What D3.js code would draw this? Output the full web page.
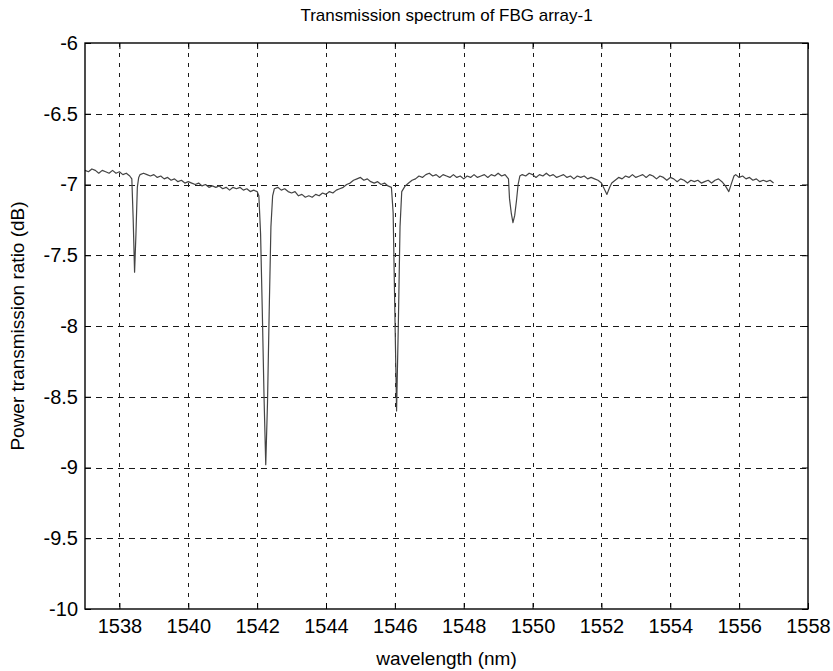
<!DOCTYPE html>
<html>
<head>
<meta charset="utf-8">
<script src="https://cdn.jsdelivr.net/npm/d3@7"></script>
<style>
  html, body { margin: 0; padding: 0; background: #fff; }
  svg { display: block; font-family: "Liberation Sans", Arial, sans-serif; }
</style>
</head>
<body>
<svg id="chart" width="833" height="671"></svg>
<script>
// Axis settings and labels
const titleText = "Transmission spectrum of FBG array-1";
const xLabelText = "wavelength (nm)";
const yLabelText = "Power transmission ratio (dB)";
const xDomain = [1537, 1558];
const yDomain = [-10, -6];
const xTickValues = [1538, 1540, 1542, 1544, 1546, 1548, 1550, 1552, 1554, 1556, 1558];
const yTickValues = [-10, -9.5, -9, -8.5, -8, -7.5, -7, -6.5, -6];

// Measured transmission spectrum: [wavelength (nm), power ratio (dB)]
const spectrumPoints = [
  [1537.0,-6.90],[1537.1,-6.91],[1537.2,-6.89],[1537.3,-6.90],[1537.4,-6.92],[1537.5,-6.90],
  [1537.6,-6.91],[1537.7,-6.92],[1537.8,-6.90],[1537.9,-6.92],[1538.0,-6.91],[1538.1,-6.93],
  [1538.2,-6.92],[1538.3,-6.94],
  // grating 1
  [1538.36,-6.96],[1538.40,-7.25],[1538.44,-7.62],[1538.48,-7.35],[1538.52,-7.02],[1538.56,-6.95],
  [1538.6,-6.93],[1538.7,-6.92],[1538.8,-6.93],[1538.9,-6.94],[1539.0,-6.93],[1539.1,-6.95],
  [1539.2,-6.94],[1539.3,-6.96],[1539.4,-6.95],[1539.5,-6.97],[1539.6,-6.96],[1539.7,-6.98],
  [1539.8,-6.97],[1539.9,-6.99],[1540.0,-6.98],[1540.1,-6.99],[1540.2,-7.00],[1540.3,-6.99],
  [1540.4,-7.01],[1540.5,-7.00],[1540.6,-7.02],[1540.7,-7.01],[1540.8,-7.02],[1540.9,-7.01],
  [1541.0,-7.03],[1541.1,-7.02],[1541.2,-7.04],[1541.3,-7.02],[1541.4,-7.03],[1541.5,-7.02],
  [1541.6,-7.04],[1541.7,-7.03],[1541.8,-7.05],[1541.9,-7.04],[1542.0,-7.05],
  // grating 2
  [1542.05,-7.08],[1542.10,-7.35],[1542.15,-7.90],[1542.20,-8.50],[1542.25,-8.98],[1542.30,-8.55],
  [1542.35,-7.90],[1542.40,-7.30],[1542.45,-7.08],[1542.50,-7.03],
  [1542.6,-7.02],[1542.7,-7.04],[1542.8,-7.03],[1542.9,-7.05],[1543.0,-7.06],[1543.1,-7.05],
  [1543.2,-7.08],[1543.3,-7.07],[1543.4,-7.09],[1543.5,-7.08],[1543.6,-7.09],[1543.7,-7.07],
  [1543.8,-7.08],[1543.9,-7.06],[1544.0,-7.07],[1544.1,-7.05],[1544.2,-7.06],[1544.3,-7.04],
  [1544.4,-7.03],[1544.5,-7.02],[1544.6,-7.00],[1544.7,-6.99],[1544.8,-6.97],[1544.9,-6.96],
  [1545.0,-6.95],[1545.1,-6.97],[1545.2,-6.96],[1545.3,-6.98],[1545.4,-6.99],[1545.5,-6.98],
  [1545.6,-7.00],[1545.7,-6.99],[1545.8,-7.01],[1545.9,-7.02],
  // grating 3
  [1545.95,-7.20],[1546.00,-7.90],[1546.05,-8.60],[1546.10,-8.00],[1546.15,-7.30],[1546.20,-7.05],
  [1546.3,-7.01],[1546.4,-6.99],[1546.5,-6.97],[1546.6,-6.96],[1546.7,-6.94],[1546.8,-6.95],
  [1546.9,-6.93],[1547.0,-6.92],[1547.1,-6.94],[1547.2,-6.93],[1547.3,-6.95],[1547.4,-6.93],
  [1547.5,-6.94],[1547.6,-6.95],[1547.7,-6.93],[1547.8,-6.95],[1547.9,-6.94],[1548.0,-6.96],
  [1548.1,-6.94],[1548.2,-6.95],[1548.3,-6.93],[1548.4,-6.95],[1548.5,-6.94],[1548.6,-6.93],
  [1548.7,-6.95],[1548.8,-6.93],[1548.9,-6.94],[1549.0,-6.92],[1549.1,-6.94],[1549.2,-6.93],
  [1549.3,-6.96],
  // grating 4
  [1549.33,-7.10],[1549.38,-7.20],[1549.43,-7.27],[1549.48,-7.22],[1549.53,-7.12],[1549.58,-7.00],
  [1549.63,-6.94],
  [1549.7,-6.93],[1549.8,-6.94],[1549.9,-6.92],[1550.0,-6.93],[1550.1,-6.95],[1550.2,-6.93],
  [1550.3,-6.94],[1550.4,-6.92],[1550.5,-6.94],[1550.6,-6.93],[1550.7,-6.95],[1550.8,-6.94],
  [1550.9,-6.93],[1551.0,-6.95],[1551.1,-6.94],[1551.2,-6.96],[1551.3,-6.94],[1551.4,-6.95],
  [1551.5,-6.94],[1551.6,-6.96],[1551.7,-6.95],[1551.8,-6.96],[1551.9,-6.97],[1552.0,-6.99],
  // grating 5
  [1552.08,-7.03],[1552.16,-7.07],[1552.24,-7.02],[1552.3,-6.99],
  [1552.4,-6.97],[1552.5,-6.95],[1552.6,-6.96],[1552.7,-6.94],[1552.8,-6.95],[1552.9,-6.93],
  [1553.0,-6.95],[1553.1,-6.94],[1553.2,-6.93],[1553.3,-6.95],[1553.4,-6.93],[1553.5,-6.94],
  [1553.6,-6.96],[1553.7,-6.94],[1553.8,-6.95],[1553.9,-6.97],[1554.0,-6.95],[1554.1,-6.96],
  [1554.2,-6.98],[1554.3,-6.96],[1554.4,-6.97],[1554.5,-6.99],[1554.6,-6.97],[1554.7,-6.98],
  [1554.8,-6.97],[1554.9,-6.99],[1555.0,-6.98],[1555.1,-6.97],[1555.2,-6.99],[1555.3,-6.97],
  [1555.4,-6.96],[1555.5,-6.98],
  // grating 6
  [1555.6,-7.01],[1555.7,-7.05],[1555.78,-6.99],[1555.85,-6.94],
  [1555.9,-6.93],[1556.0,-6.95],[1556.1,-6.94],[1556.2,-6.96],[1556.3,-6.95],[1556.4,-6.97],
  [1556.5,-6.96],[1556.6,-6.98],[1556.7,-6.97],[1556.8,-6.98],[1556.9,-6.97],[1557.0,-6.99]
];

const plot = { left: 85, right: 808, top: 43, bottom: 609 };

const svg = d3.select("#chart");

const x = d3.scaleLinear().domain(xDomain).range([plot.left, plot.right]);
const y = d3.scaleLinear().domain(yDomain).range([plot.bottom, plot.top]);

// Dashed grid
const grid = svg.append("g").attr("class", "grid")
  .attr("stroke", "#1a1a1a").attr("stroke-width", 1).attr("fill", "none");

grid.selectAll("line.vgrid")
  .data(xTickValues.filter(v => v > xDomain[0] && v < xDomain[1]))
  .join("line")
  .attr("class", "vgrid")
  .attr("x1", d => Math.round(x(d)) + 0.5).attr("x2", d => Math.round(x(d)) + 0.5)
  .attr("y1", plot.top).attr("y2", plot.bottom)
  .attr("stroke-dasharray", "4,6");

grid.selectAll("line.hgrid")
  .data(yTickValues.filter(v => v > yDomain[0] && v < yDomain[1]))
  .join("line")
  .attr("class", "hgrid")
  .attr("x1", plot.left).attr("x2", plot.right)
  .attr("y1", d => Math.round(y(d)) + 0.5).attr("y2", d => Math.round(y(d)) + 0.5)
  .attr("stroke-dasharray", "6,5");

// Spectrum trace
const line = d3.line().x(d => x(d[0])).y(d => y(d[1]));
svg.append("path")
  .datum(spectrumPoints)
  .attr("d", line)
  .attr("fill", "none")
  .attr("stroke", "#444")
  .attr("stroke-width", 1.2)
  .attr("stroke-linejoin", "round");

// Axes with inward ticks on all four sides
const tickFont = "20px";
const xAxisBottom = d3.axisBottom(x).tickValues(xTickValues).tickSizeInner(-6).tickSizeOuter(0).tickPadding(10)
  .tickFormat(d => String(d));
const xAxisTop = d3.axisTop(x).tickValues(xTickValues).tickSizeInner(-6).tickSizeOuter(0).tickFormat("");
const yAxisLeft = d3.axisLeft(y).tickValues(yTickValues).tickSizeInner(-6).tickSizeOuter(0).tickPadding(7)
  .tickFormat(d => String(d));
const yAxisRight = d3.axisRight(y).tickValues(yTickValues).tickSizeInner(-6).tickSizeOuter(0).tickFormat("");

function styleAxis(g) {
  g.select(".domain").remove();
  g.selectAll(".tick line").attr("stroke", "#000");
  g.selectAll(".tick text").attr("fill", "#000").style("font-size", tickFont)
    .style("font-family", "'Liberation Sans', Arial, sans-serif");
}

svg.append("g").attr("transform", `translate(0,${plot.bottom})`).call(xAxisBottom).call(styleAxis);
svg.append("g").attr("transform", `translate(0,${plot.top})`).call(xAxisTop).call(styleAxis);
svg.append("g").attr("transform", `translate(${plot.left},0)`).call(yAxisLeft).call(styleAxis);
svg.append("g").attr("transform", `translate(${plot.right},0)`).call(yAxisRight).call(styleAxis);

// Axes box
svg.append("rect")
  .attr("x", plot.left).attr("y", plot.top)
  .attr("width", plot.right - plot.left).attr("height", plot.bottom - plot.top)
  .attr("fill", "none").attr("stroke", "#000").attr("stroke-width", 1.4);

// Title and axis labels
svg.append("text")
  .attr("x", (plot.left + plot.right) / 2).attr("y", 21)
  .attr("text-anchor", "middle")
  .style("font-size", "17px")
  .text(titleText);

svg.append("text")
  .attr("x", (plot.left + plot.right) / 2).attr("y", 665)
  .attr("text-anchor", "middle")
  .style("font-size", "19px")
  .text(xLabelText);

svg.append("text")
  .attr("transform", `translate(24,${(plot.top + plot.bottom) / 2}) rotate(-90)`)
  .attr("text-anchor", "middle")
  .style("font-size", "19px")
  .text(yLabelText);
</script>
</body>
</html>
